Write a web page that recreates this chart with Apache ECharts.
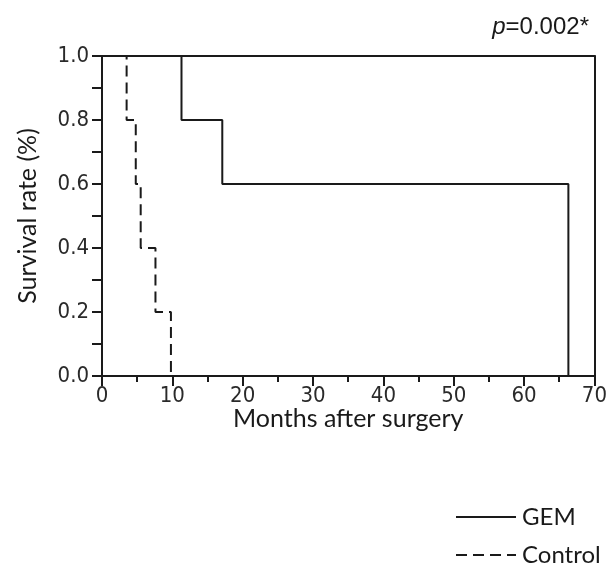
<!DOCTYPE html>
<html>
<head>
<meta charset="utf-8">
<script src="https://cdn.jsdelivr.net/npm/echarts@6/dist/echarts.min.js"></script>
<style>html,body{margin:0;padding:0;background:#fff}#c{width:610px;height:565px}</style>
</head>
<body>
<div id="c"></div>
<script>
// Kaplan-Meier survival steps: [month, survival]
var gemData = [[0, 1.0], [11.3, 0.8], [17.1, 0.6], [66.3, 0.0]];
var controlData = [[0, 1.0], [3.5, 0.8], [4.8, 0.6], [5.5, 0.4], [7.6, 0.2], [9.8, 0.0]];
var seriesNames = ['GEM', 'Control'];
var xTitle = 'Months after surgery';
var yTitle = 'Survival rate (%)';
var pText = '=0.002*';

var chart = echarts.init(document.getElementById('c'));
var tickFont = 'DejaVu Sans Condensed, DejaVu Sans';
var titleFont = 'Lato';
var ink = '#1a1a1a';
function legendFor(name, top) {
  return {
    orient: 'vertical', left: 450, top: top, itemWidth: 60, itemHeight: 14,
    itemStyle: { opacity: 0 },
    textStyle: { fontFamily: titleFont, fontSize: 24, color: ink, lineHeight: 30, padding: [0, 0, 0, 1] },
    data: [name]
  };
}
chart.setOption({
  animation: false,
  backgroundColor: '#fff',
  grid: { left: 102, right: 14, top: 56, bottom: 189 },
  xAxis: [{
    type: 'value', min: 0, max: 70, interval: 10,
    name: xTitle, nameLocation: 'middle', nameGap: 30, nameMoveOverlap: false,
    nameTextStyle: { fontFamily: titleFont, fontSize: 25, color: ink },
    axisLine: { lineStyle: { color: ink, width: 2 } },
    axisTick: { show: true, inside: false, length: 10, lineStyle: { color: ink, width: 2 } },
    minorTick: { show: true, splitNumber: 2, length: 6, lineStyle: { color: ink, width: 2 } },
    axisLabel: { fontFamily: tickFont, fontSize: 22, color: '#2a2a2a', margin: 9 },
    splitLine: { show: false }
  }, {
    type: 'value', min: 0, max: 70, position: 'top',
    axisLine: { show: true, onZero: false, lineStyle: { color: ink, width: 2 } },
    axisTick: { show: false }, axisLabel: { show: false }, splitLine: { show: false }
  }],
  yAxis: [{
    type: 'value', min: 0, max: 1, interval: 0.2,
    name: yTitle, nameLocation: 'middle', nameGap: 62, nameRotate: 90, nameMoveOverlap: false,
    nameTextStyle: { fontFamily: titleFont, fontSize: 25, color: ink },
    axisLine: { show: true, lineStyle: { color: ink, width: 2 } },
    axisTick: { show: true, inside: false, length: 10, lineStyle: { color: ink, width: 2 } },
    minorTick: { show: true, splitNumber: 2, length: 10, lineStyle: { color: ink, width: 2 } },
    axisLabel: { fontFamily: tickFont, fontSize: 22, color: '#2a2a2a', margin: 13, formatter: function (v) { return v.toFixed(1); } },
    splitLine: { show: false }
  }, {
    type: 'value', min: 0, max: 1, position: 'right',
    axisLine: { show: true, onZero: false, lineStyle: { color: ink, width: 2 } },
    axisTick: { show: false }, axisLabel: { show: false }, splitLine: { show: false }
  }],
  legend: [legendFor(seriesNames[0], 497), legendFor(seriesNames[1], 535)],
  graphic: [{
    type: 'text', right: 21, top: 15,
    style: {
      rich: {
        i: { fontFamily: 'Liberation Sans', fontStyle: 'italic', fontSize: 24, fill: ink },
        n: { fontFamily: 'Liberation Sans', fontSize: 24, fill: ink }
      },
      text: '{i|p}{n|' + pText + '}'
    }
  }],
  series: [
    { name: seriesNames[0], type: 'line', step: 'end', data: gemData, symbol: 'none',
      lineStyle: { color: ink, width: 2, type: 'solid' }, itemStyle: { color: ink }, z: 3 },
    { name: seriesNames[1], type: 'line', step: 'end', data: controlData, symbol: 'none',
      lineStyle: { color: ink, width: 2, type: [11, 6] }, itemStyle: { color: ink }, z: 2 }
  ]
});
</script>
</body>
</html>
